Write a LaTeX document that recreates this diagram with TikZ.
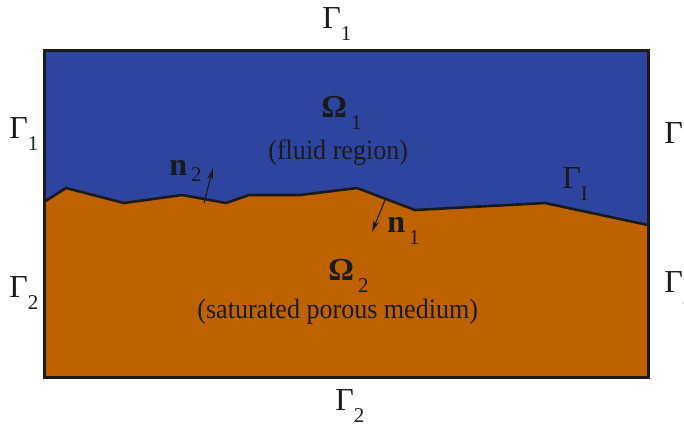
\documentclass[tikz,border=0pt]{standalone}
\usepackage{fontspec}
\setmainfont{Liberation Serif}
\newfontfamily\notefont[FakeStretch=0.93]{Liberation Serif}
\usepackage{xcolor}
\usetikzlibrary{arrows.meta}
\definecolor{FRBlue}  {HTML}{2E45A0}
\definecolor{PMOrange}{HTML}{BE6200}
\definecolor{FRInk}   {HTML}{1A1A1A}
\newcommand{\lowsub}[1]{\raisebox{-6pt}{\fontsize{10.5}{12}\selectfont #1}}

\begin{document}
\begin{tikzpicture}[x=0.5pt,y=-0.5pt,
    lbl/.style={font=\fontsize{16}{18}\selectfont,text=FRInk,anchor=base west,inner sep=0pt},
    note/.style={font=\notefont\fontsize{14}{16}\selectfont,text=FRInk,anchor=base west,inner sep=0pt},
    normal/.style={draw=FRInk,line width=0.55pt,-{Stealth[length=6pt,width=3pt]}}]
    \useasboundingbox (0,0) rectangle (684,424);
    % fluid region
    \fill[FRBlue] (44,50.5) rectangle (648,377.5);
    % porous medium
    \fill[PMOrange] (44,202) -- (66,188) -- (124,203) -- (182,195) -- (226,203)
        -- (249,195) -- (300,195) -- (357,188) -- (415,210) -- (545,203)
        -- (648,225) -- (648,377.5) -- (44,377.5) -- cycle;
    % interface
    \draw[FRInk,line width=1.3pt,line join=round] (44,202) -- (66,188) -- (124,203)
        -- (182,195) -- (226,203) -- (249,195) -- (300,195) -- (357,188)
        -- (415,210) -- (545,203) -- (648,225);
    \draw[FRInk,line width=1.5pt] (44,50.5) rectangle (648,377.5);

    % boundaries
    \node[lbl] (gtop)   at (322,28)  {Γ\lowsub{1}};
    \node[lbl] (gleft1) at (9,138)   {Γ\lowsub{1}};
    \node[lbl] (gright1) at (664,143) {Γ\lowsub{1}};
    \node[lbl] (gleft2) at (9,297)   {Γ\lowsub{2}};
    \node[lbl] (gright2) at (664,292) {Γ\lowsub{2}};
    \node[lbl] (gbot)   at (335,410) {Γ\lowsub{2}};
    \node[lbl] (gint)   at (562,188) {Γ\lowsub{I}};

    % regions
    \node[lbl] (om1) at (321,117) {\textbf{Ω}\kern2pt\lowsub{1}};
    \node[note] (fluid) at (268,159) {(fluid region)};
    \node[lbl] (om2) at (328,280) {\textbf{Ω}\kern2pt\lowsub{2}};
    \node[note] (porous) at (197,318) {(saturated porous medium)};

    % normals
    \coordinate (n2foot) at (204,203);
    \coordinate (n2tip)  at (213,168);
    \coordinate (n1foot) at (385,200);
    \coordinate (n1tip)  at (372,232);
    \draw[normal] (n2foot) -- (n2tip);
    \draw[normal] (n1foot) -- (n1tip);
    \node[lbl] (nn2) at (169,175) {\textbf{n}\kern2pt\raisebox{-3pt}{\fontsize{10.5}{12}\selectfont 2}};
    \node[lbl] (nn1) at (387,232) {\textbf{n}\kern2pt\lowsub{1}};
\end{tikzpicture}
\end{document}
